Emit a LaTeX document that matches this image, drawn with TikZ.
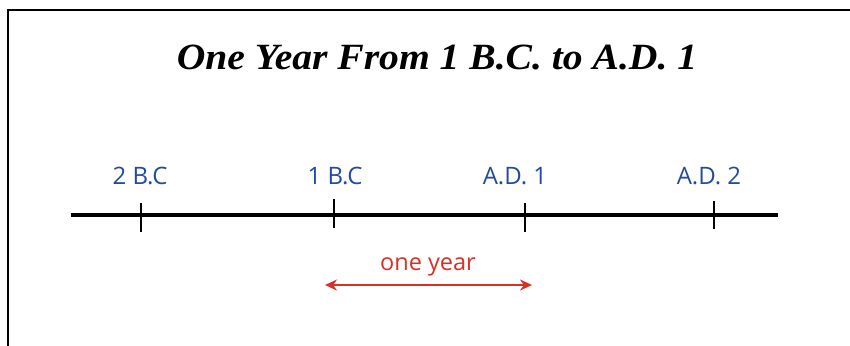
\documentclass[tikz,border=0pt]{standalone}
\usepackage{fontspec}
\setmainfont{Open Sans}
\newfontfamily\titlefont[FakeStretch=1.07]{Liberation Serif}
\usetikzlibrary{arrows.meta}
\definecolor{lblblue}{RGB}{35,75,160}
\definecolor{arrred}{RGB}{215,50,40}
\tikzset{
  frameline/.style={line width=2.2pt, black},
  axisline/.style={line width=4.5pt, black},
  tickline/.style={line width=2pt, black},
  yearlabel/.style={anchor=base, inner sep=0pt, text=lblblue, font=\fontsize{24}{28}\selectfont},
  spanlabel/.style={anchor=base, inner sep=0pt, text=arrred, font=\fontsize{23.5}{28}\selectfont},
  spanarrow/.style={line width=2.8pt, arrred, {Stealth[length=12pt,width=11pt]}-{Stealth[length=12pt,width=11pt]}},
  titlestyle/.style={anchor=base, inner sep=0pt, font=\titlefont\bfseries\itshape\fontsize{37}{42}\selectfont}
}
\begin{document}
\begin{tikzpicture}[x=1pt,y=-1pt]
\useasboundingbox[fill=white] (0,0) rectangle (850,345);
% frame
\coordinate (fbl) at (8,346);
\coordinate (ftl) at (8,10);
\coordinate (ftr) at (851,10);
\draw[frameline] (fbl) -- (ftl) -- (ftr);
% title
\node[titlestyle] (title) at (437,69) {One Year From 1 B.C. to A.D. 1};
% axis
\coordinate (axl) at (71,215);
\coordinate (axr) at (778,215);
\draw[axisline] (axl) -- (axr);
% ticks
\coordinate (t1a) at (141,203); \coordinate (t1b) at (141,232);
\coordinate (t2a) at (334,199); \coordinate (t2b) at (334,228);
\coordinate (t3a) at (525,203); \coordinate (t3b) at (525,232);
\coordinate (t4a) at (714,201); \coordinate (t4b) at (714,229);
\draw[tickline] (t1a) -- (t1b);
\draw[tickline] (t2a) -- (t2b);
\draw[tickline] (t3a) -- (t3b);
\draw[tickline] (t4a) -- (t4b);
% labels
\node[yearlabel] (l1) at (140,184) {2 B.C};
\node[yearlabel] (l2) at (335,184) {1 B.C};
\node[yearlabel] (l3) at (515,184) {A.D. 1};
\node[yearlabel] (l4) at (709,184) {A.D. 2};
% span
\node[spanlabel] (span) at (428,270) {one year};
\coordinate (sa) at (325,285);
\coordinate (sb) at (532,285);
\draw[spanarrow] (sa) -- (sb);
\end{tikzpicture}
\end{document}
